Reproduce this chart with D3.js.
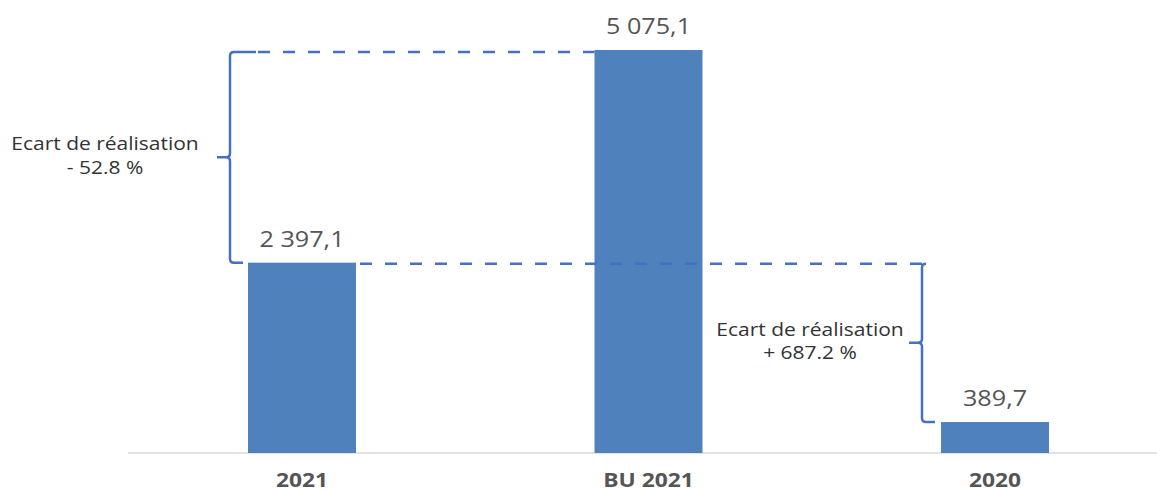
<!DOCTYPE html>
<html><head><meta charset="utf-8">
<script src="https://cdn.jsdelivr.net/npm/d3@7"></script>
<style>html,body{margin:0;padding:0;background:#fff;}svg{display:block;}</style>
</head><body>
<svg id="chart" width="1157" height="492"></svg>
<script>
const categories = ["2021", "BU 2021", "2020"];
const values = [2397.1, 5075.1, 389.7];
const valueLabels = ["2 397,1", "5 075,1", "389,7"];
const gapLines1 = ["Ecart de réalisation", "- 52.8 %"];
const gapLines2 = ["Ecart de réalisation", "+ 687.2 %"];

const W = 1157, H = 492;
const svg = d3.select("#chart");
const FONT = "'Open Sans', sans-serif";
const SX = 1.2; // horizontal stretch of the original picture

const x = d3.scalePoint().domain(categories).range([302, 995]);
const y = d3.scaleLinear().domain([0, 5075.1]).range([453, 50]);
const barW = 108;
const blue = "#4F81BD", lineBlue = "#4770C2";

// axis baseline
svg.append("line").attr("x1", 128).attr("x2", W).attr("y1", y(0)).attr("y2", y(0))
  .attr("stroke", "#d9d9d9").attr("stroke-width", 1.5);

// bars
svg.selectAll("rect.bar").data(categories).join("rect").attr("class", "bar")
  .attr("x", d => x(d) - barW / 2).attr("width", barW)
  .attr("y", (d, i) => y(values[i])).attr("height", (d, i) => y(0) - y(values[i]))
  .attr("fill", blue);

function stretchedText(g, tx, ty, txt, size, weight, color) {
  g.append("text").attr("transform", `translate(${tx},${ty}) scale(${SX},1)`)
    .attr("text-anchor", "middle").attr("font-family", FONT).attr("font-size", size)
    .attr("font-weight", weight).attr("fill", color).text(txt);
}

// value labels
categories.forEach((c, i) => stretchedText(svg, x(c), y(values[i]) - 16, valueLabels[i], 21, 400, "#555555"));

// category labels
categories.forEach(c => stretchedText(svg, x(c), 487, c, 19, 700, "#555555"));

// bracket helper (left-facing brace)
function bracket(bx, top, bot, topLen, botLen) {
  const r = 4, mid = (top + bot) / 2, tick = 13;
  const p = d3.path();
  p.moveTo(bx + topLen, top);
  p.lineTo(bx + r, top);
  p.quadraticCurveTo(bx, top, bx, top + r);
  p.lineTo(bx, mid - r);
  p.quadraticCurveTo(bx, mid, bx - r, mid);
  p.lineTo(bx - tick, mid);
  p.moveTo(bx - r, mid);
  p.quadraticCurveTo(bx, mid, bx, mid + r);
  p.lineTo(bx, bot - r);
  p.quadraticCurveTo(bx, bot, bx + r, bot);
  p.lineTo(bx + botLen, bot);
  svg.append("path").attr("d", p.toString()).attr("fill", "none")
    .attr("stroke", lineBlue).attr("stroke-width", 2.5);
  return mid;
}
function dashed(x1, x2, yy) {
  svg.append("line").attr("x1", x1).attr("x2", x2).attr("y1", yy).attr("y2", yy)
    .attr("stroke", lineBlue).attr("stroke-width", 2.5).attr("stroke-dasharray", "12,13");
}

// bracket 1: 2021 vs BU 2021
const b1x = x("2021") - barW / 2 - 18;
const yTop1 = y(values[1]) + 2, yBot1 = y(values[0]);
dashed(b1x + 28, x("BU 2021") - barW / 2, yTop1);
const m1 = bracket(b1x, yTop1, yBot1, 26, 13);
stretchedText(svg, 105, m1 - 7, gapLines1[0], 17.5, 400, "#333333");
stretchedText(svg, 105, m1 + 17, gapLines1[1], 17.5, 400, "#333333");

// bracket 2: 2021 vs 2020
const b2x = x("2020") - barW / 2 - 19;
dashed(x("2021") + barW / 2 + 4, b2x, yBot1 + 1);
const m2 = bracket(b2x, yBot1 + 1, y(values[2]), 4, 13);
stretchedText(svg, 810, m2 - 7, gapLines2[0], 17.5, 400, "#333333");
stretchedText(svg, 810, m2 + 16, gapLines2[1], 17.5, 400, "#333333");
</script>
</body></html>
